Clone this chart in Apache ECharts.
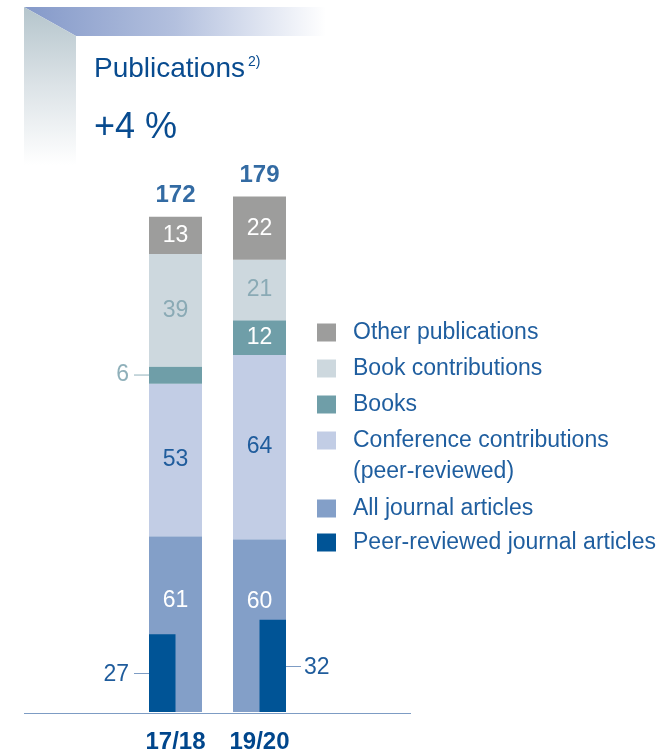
<!DOCTYPE html>
<html><head><meta charset="utf-8">
<script src="https://cdn.jsdelivr.net/npm/echarts@6/dist/echarts.min.js"></script>
<style>html,body{margin:0;padding:0;background:#fff}#c{width:663px;height:754px}</style>
</head><body><div id="c"></div>
<script>
// ---- data ----
const categories = ['17/18', '19/20'];
const allJournal = [61, 60];
const conference = [53, 64];
const books = [6, 12];
const bookContributions = [39, 21];
const otherPublications = [13, 22];
const peerReviewedJournal = [27, 32];
const titleText = 'Publications';
const footnoteMark = '2)';
const changeText = '+4 %';
const seriesNames = ['Other publications', 'Book contributions', 'Books',
  'Conference contributions (peer-reviewed)', 'All journal articles', 'Peer-reviewed journal articles'];

// ---- style ----
const FONT = "'Liberation Sans', Arial, Helvetica, sans-serif";
const DARK = '#084b8f';
const BOLD_BLUE = '#00468c';
const TEXT_BLUE = '#1f5e9f';
const C_OTHER = '#9d9d9c', C_BOOKC = '#cdd8de', C_BOOKS = '#6f9ea8',
      C_CONF = '#c2cde5', C_ALL = '#839fc8', C_PEER = '#005496';
const BAR_W = 53;
const LABEL_SIZE = 23;

const totals = categories.map((_, i) => allJournal[i] + conference[i] + books[i] + bookContributions[i] + otherPublications[i]);

function stackBar(name, data, color, labelColor, labelExtra) {
  return {
    type: 'bar', name, stack: 'total', barWidth: BAR_W, data,
    itemStyle: { color }, emphasis: { disabled: true },
    label: Object.assign({ show: true, position: 'inside', color: labelColor, fontSize: LABEL_SIZE, fontFamily: FONT }, labelExtra || {})
  };
}

const booksData = books.map(v => v < 8 ? {
  value: v,
  label: {
    position: 'left', distance: 0,
    formatter: '{v|{c}}{l|}',
    rich: {
      v: { fontSize: LABEL_SIZE, color: '#8fb0ba', fontFamily: FONT, padding: [0, 5, 0, 0] },
      l: { width: 15, height: 1, backgroundColor: '#8fb0ba' }
    }
  }
} : v);

const legendText = { fontSize: 23, color: TEXT_BLUE, fontFamily: FONT, padding: [0, 0, 0, 12] };

const chart = echarts.init(document.getElementById('c'), null, { renderer: 'canvas' });
chart.setOption({
  animation: false,
  backgroundColor: '#ffffff',
  title: {
    left: 94, top: 55, padding: 0,
    text: titleText + '{sup|' + footnoteMark + '}',
    subtext: changeText,
    itemGap: 27,
    textStyle: {
      fontSize: 28, fontWeight: 'normal', color: DARK, fontFamily: FONT, lineHeight: 28,
      rich: { sup: { fontSize: 14, color: DARK, fontFamily: FONT, verticalAlign: 'top', padding: [0, 0, 0, 3], lineHeight: 28 } }
    },
    subtextStyle: { fontSize: 36, color: DARK, fontFamily: FONT, lineHeight: 36 }
  },
  legend: [{
    orient: 'vertical', left: 317, top: 321, padding: 0, itemWidth: 19, itemHeight: 18, itemGap: 13,
    icon: 'rect', selectedMode: false,
    data: seriesNames.slice(0, 4),
    formatter: n => n.split(' (')[0],
    textStyle: legendText
  }, {
    orient: 'vertical', left: 317, top: 497, padding: 0, itemWidth: 19, itemHeight: 18, itemGap: 11,
    icon: 'rect', selectedMode: false,
    data: seriesNames.slice(4),
    textStyle: legendText
  }],
  grid: { left: 149 - (84 - BAR_W) / 2, width: 168, top: 136, bottom: 41, containLabel: false },
  xAxis: {
    type: 'category', data: categories,
    axisLine: { show: false }, axisTick: { show: false },
    axisLabel: { margin: 18, fontSize: 24, fontWeight: 'bold', color: BOLD_BLUE, fontFamily: FONT }
  },
  yAxis: { type: 'value', min: 0, max: 200, show: false },
  graphic: [
    { type: 'polygon', shape: { points: [[24, 7], [326, 7], [326, 36], [76, 36]] },
      style: { fill: new echarts.graphic.LinearGradient(0, 0, 1, 0, [
        { offset: 0, color: '#8499c9' }, { offset: 0.5, color: '#b3c0de' }, { offset: 1, color: '#ffffff' }]) }, z: -1 },
    { type: 'polygon', shape: { points: [[24, 7], [76, 36], [76, 165], [24, 165]] },
      style: { fill: new echarts.graphic.LinearGradient(0, 0, 0, 1, [
        { offset: 0, color: '#b5c5cc' }, { offset: 0.5, color: '#dce3e7' }, { offset: 1, color: '#ffffff' }]) }, z: -1 },
    { type: 'line', shape: { x1: 24, y1: 713.5, x2: 411, y2: 713.5 }, style: { stroke: '#7d9cc4', lineWidth: 1 }, z: 10 },
    { type: 'text', left: 353, top: 460, style: { text: '(peer-reviewed)', font: '23px ' + FONT, fill: TEXT_BLUE } }
  ],
  series: [
    stackBar(seriesNames[4], allJournal, C_ALL, '#ffffff', { offset: [0, -24] }),
    stackBar(seriesNames[3], conference, C_CONF, '#1f5c9c'),
    stackBar(seriesNames[2], booksData, C_BOOKS, '#ffffff'),
    stackBar(seriesNames[1], bookContributions, C_BOOKC, '#8aaab5'),
    stackBar(seriesNames[0], otherPublications, C_OTHER, '#ffffff'),
    {
      type: 'custom', name: seriesNames[5], itemStyle: { color: C_PEER },
      data: peerReviewedJournal.map((v, i) => [i, v]),
      encode: { x: 0, y: 1 }, z: 5, clip: false,
      renderItem(params, api) {
        const idx = api.value(0), val = api.value(1);
        const top = api.coord([idx, val]);
        const base = api.coord([idx, 0]);
        const half = BAR_W / 2;
        const onLeft = idx % 2 === 0;
        const x0 = onLeft ? base[0] - half : base[0];
        const midY = Math.round((top[1] + base[1]) / 2) + 0.5;
        const edge = onLeft ? base[0] - half : base[0] + half;
        const lx2 = onLeft ? edge - 15 : edge + 15;
        const tx = onLeft ? lx2 - 5 : lx2 + 3;
        return {
          type: 'group', children: [
            { type: 'rect', shape: { x: x0, y: top[1], width: half, height: base[1] - top[1] }, style: { fill: C_PEER } },
            { type: 'line', shape: { x1: edge, y1: midY, x2: lx2, y2: midY }, style: { stroke: '#7d9cc4', lineWidth: 1 } },
            { type: 'text', style: { text: String(val), x: tx, y: midY + 1, align: onLeft ? 'right' : 'left', verticalAlign: 'middle',
              fill: '#1f5c9c', font: LABEL_SIZE + 'px ' + FONT } }
          ]
        };
      }
    },
    {
      type: 'scatter', name: 'total', data: totals, symbolSize: 0, silent: true,
      label: { show: true, position: 'top', distance: 9, fontSize: 24, fontWeight: 'bold', color: BOLD_BLUE, fontFamily: FONT, formatter: '{c}' }
    }
  ]
});
</script></body></html>
